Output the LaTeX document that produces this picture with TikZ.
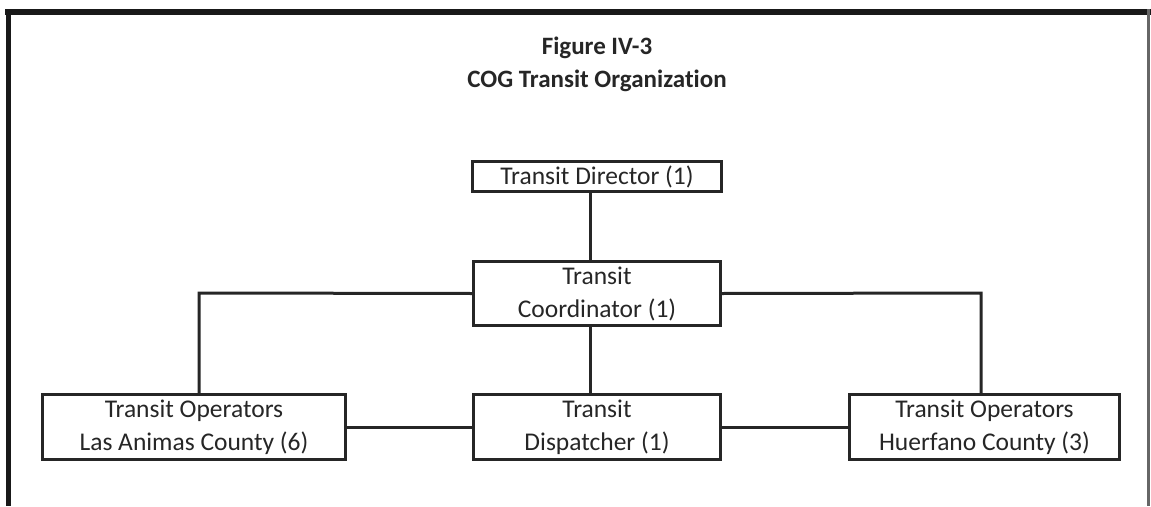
\documentclass[tikz,border=0pt]{standalone}
\usepackage{fontspec}
\setmainfont{Carlito}[Ligatures=NoCommon]
\begin{document}
\begin{tikzpicture}[x=1pt,y=-1pt,
  orgbox/.style={draw=black!85, line width=3pt, rectangle, inner sep=0pt, align=center,
    font=\fontsize{25.5}{33}\selectfont, text=black!85},
  link/.style={draw=black!85, line width=3pt},
  titletext/.style={font=\bfseries\fontsize{25}{33}\selectfont, align=center, text=black!85}]
\useasboundingbox (0,0) rectangle (1151,506);
% frame
\draw[line width=6pt, black!90] (5,11.5) -- (1151,11.5);
\draw[line width=5pt, black!90] (8.5,9) -- (8.5,506);
\draw[line width=2.5pt, black!60] (1148.5,9) -- (1148.5,506);
% title
\node[titletext] (title) at (597,64) {Figure IV-3\\COG Transit Organization};
% boxes
\node[orgbox, minimum width=249pt, minimum height=30pt] (dir) at (597,176.5) {Transit Director (1)};
\node[orgbox, minimum width=247pt, minimum height=64pt] (coord) at (597,293.5) {Transit\\Coordinator (1)};
\node[orgbox, minimum width=247pt, minimum height=65pt] (disp) at (597,427) {Transit\\Dispatcher (1)};
\node[orgbox, minimum width=303pt, minimum height=65pt] (las) at (194,427) {Transit Operators\\Las Animas County (6)};
\node[orgbox, minimum width=270pt, minimum height=65pt] (hue) at (984.5,427) {Transit Operators\\Huerfano County (3)};
% connectors
\coordinate (dx) at (590,0);
\coordinate (lt) at (199,293);
\coordinate (rt) at (981,293);
\draw[link] (dx |- dir.south) -- (dx |- coord.north);
\draw[link] (dx |- coord.south) -- (dx |- disp.north);
\draw[link] (coord.west) -- (lt) -- (lt |- las.north);
\draw[link] (coord.east) -- (rt) -- (rt |- hue.north);
\draw[link] (las.east) -- (disp.west);
\draw[link] (disp.east) -- (hue.west);
\end{tikzpicture}
\end{document}
